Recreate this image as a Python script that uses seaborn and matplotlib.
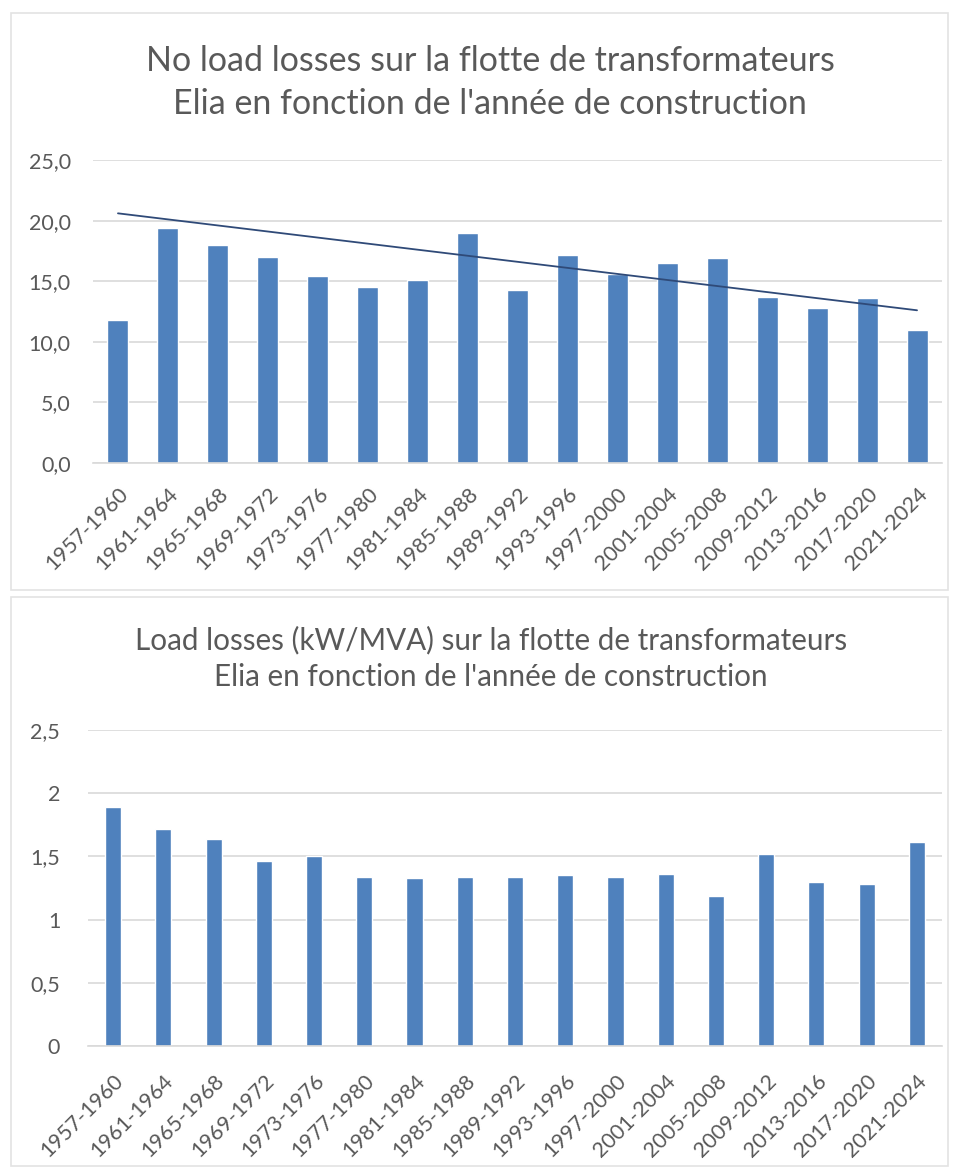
import matplotlib
matplotlib.use('Agg')
import matplotlib.pyplot as plt
import seaborn as sns
from matplotlib.patches import Rectangle
from matplotlib.ticker import FuncFormatter, MultipleLocator

# data
periods = ['1957-1960', '1961-1964', '1965-1968', '1969-1972', '1973-1976',
           '1977-1980', '1981-1984', '1985-1988', '1989-1992', '1993-1996',
           '1997-2000', '2001-2004', '2005-2008', '2009-2012', '2013-2016',
           '2017-2020', '2021-2024']
no_load = [11.8, 19.4, 18.0, 17.0, 15.4, 14.5, 15.1, 19.0, 14.3, 17.2,
           15.6, 16.5, 16.9, 13.7, 12.8, 13.6, 11.0]
load = [1.89, 1.72, 1.64, 1.46, 1.50, 1.34, 1.33, 1.34, 1.34, 1.35,
        1.34, 1.36, 1.19, 1.52, 1.30, 1.28, 1.61]
# trend line (as drawn in the reference), first and last category
trend = [20.6, 12.6]

title_top = ['No load losses sur la flotte de transformateurs',
             "Elia en fonction de l'année de construction"]
title_bot = ['Load losses (kW/MVA) sur la flotte de transformateurs',
             "Elia en fonction de l'année de construction"]

sns.set_theme(style='white')
plt.rcParams['font.family'] = ['Lato', 'DejaVu Sans']

bar_color = '#4f81bd'
text_color = '#595959'
grid_color = '#d9d9d9'
W, H = 954, 1167

fig = plt.figure(figsize=(W / 100, H / 100), dpi=100)

# light frames around each chart
for x0, y0, x1, y1 in [(11, 13, 948, 590), (11, 597, 948, 1166)]:
    fig.add_artist(Rectangle((x0 / W, 1 - y1 / H), (x1 - x0) / W, (y1 - y0) / H,
                             transform=fig.transFigure, fill=False,
                             edgecolor='#e3e3e3', lw=1.2))

ax1 = fig.add_axes([93 / W, 1 - 463 / H, (942 - 93) / W, (463 - 160) / H])
ax2 = fig.add_axes([88 / W, 1 - 1046 / H, (942 - 88) / W, (1046 - 730) / H])

sns.barplot(x=periods, y=no_load, color=bar_color, saturation=1, width=0.42, ax=ax1)
ax1.plot([0, len(periods) - 1], trend, color='#2f4a78', lw=1.3)
sns.barplot(x=periods, y=load, color=bar_color, saturation=1, width=0.32, ax=ax2)

ax1.set_ylim(0, 25)
ax1.yaxis.set_major_locator(MultipleLocator(5))
ax1.yaxis.set_major_formatter(FuncFormatter(lambda v, _: f'{v:.1f}'.replace('.', ',')))
ax2.set_ylim(0, 2.5)
ax2.yaxis.set_major_locator(MultipleLocator(0.5))
ax2.yaxis.set_major_formatter(FuncFormatter(lambda v, _: f'{v:g}'.replace('.', ',')))

for ax, ypad, xpad in [(ax1, 16, 15), (ax2, 20, 18)]:
    ax.set_xlim(-0.5, len(periods) - 0.5)
    ax.set_xlabel('')
    ax.set_ylabel('')
    for s in ['top', 'right', 'left']:
        ax.spines[s].set_visible(False)
    ax.spines['bottom'].set_color(grid_color)
    ax.spines['bottom'].set_linewidth(1.2)
    ax.grid(axis='y', color=grid_color, lw=1.2)
    ax.set_axisbelow(True)
    ax.tick_params(axis='y', length=0, pad=ypad, labelsize=15.5, labelcolor=text_color)
    ax.tick_params(axis='x', length=0, pad=xpad, labelsize=15.5, labelcolor=text_color)
    for lab in ax.get_xticklabels():
        lab.set_rotation(45)
        lab.set_ha('right')
        lab.set_rotation_mode('anchor')

fig.text(490 / W, 1 - 61 / H, title_top[0], ha='center', va='center', fontsize=24.5, color=text_color)
fig.text(490 / W, 1 - 104 / H, title_top[1], ha='center', va='center', fontsize=24.5, color=text_color)
fig.text(491 / W, 1 - 640 / H, title_bot[0], ha='center', va='center', fontsize=21.3, color=text_color)
fig.text(491 / W, 1 - 677 / H, title_bot[1], ha='center', va='center', fontsize=21.3, color=text_color)

fig.savefig('out.png', dpi=100, facecolor='white')
